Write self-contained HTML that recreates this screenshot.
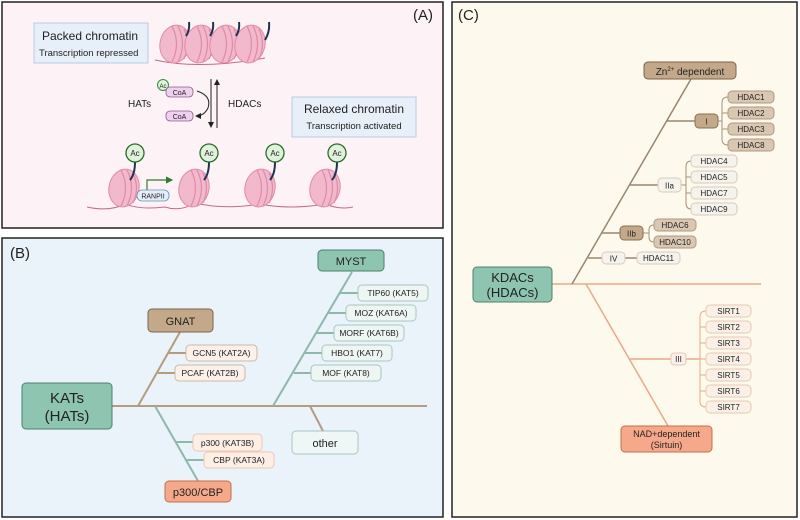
<!DOCTYPE html>
<html><head><meta charset="utf-8"><style>
html,body{margin:0;padding:0;background:#fff}
svg{display:block}
text{font-family:"Liberation Sans",sans-serif;fill:#222}
</style></head><body>
<svg width="800" height="520" viewBox="0 0 800 520" xmlns="http://www.w3.org/2000/svg">
<defs>
<marker id="ar" markerWidth="6" markerHeight="6" refX="5" refY="3" orient="auto"><path d="M0,0 L6,3 L0,6z" fill="#222"/></marker>
<marker id="arg" markerWidth="6" markerHeight="6" refX="5" refY="3" orient="auto"><path d="M0,0 L6,3 L0,6z" fill="#2e7d32"/></marker>
<g id="nuc"><ellipse cx="0" cy="0" rx="15" ry="19" fill="#f2b8cc" stroke="#e08aa8" stroke-width="1" transform="rotate(12)"/><path d="M-3,-18 Q6,0 -3,18 M3,-18 Q12,0 3,18 M9,-15 Q16,0 9,15" fill="none" stroke="#e08aa8" stroke-width="1.2"/></g>
</defs>
<!-- Panel A -->
<rect x="2" y="2" width="441" height="226" fill="#fdf3f7" stroke="#222" stroke-width="1.5"/>
<text x="413" y="20" font-size="15">(A)</text>
<rect x="34" y="23" width="114" height="40" fill="#e7eff8" stroke="#b7cbe0"/>
<text x="42" y="40" font-size="12">Packed chromatin</text>
<text x="39" y="56" font-size="9.5">Transcription repressed</text>
<path d="M155,60 Q200,70 265,58" fill="none" stroke="#c9668e" stroke-width="1"/>
<use href="#nuc" x="175" y="44"/><use href="#nuc" x="200" y="44"/><use href="#nuc" x="225" y="44"/><use href="#nuc" x="250" y="44"/>
<path d="M189,22 Q190,30 186,36 M213,22 Q214,30 210,36 M239,22 Q240,30 236,36 M269,22 Q270,32 265,40" fill="none" stroke="#1e3350" stroke-width="2"/>
<circle cx="163" cy="85" r="5.5" fill="#dff2dc" stroke="#3c8a3c"/><text x="163" y="88" font-size="6" text-anchor="middle">Ac</text>
<rect x="166" y="87" width="27" height="10" rx="4" fill="#efd0ee" stroke="#8a5a8a" stroke-width=".8"/><text x="179.5" y="95" font-size="7" text-anchor="middle">CoA</text>
<rect x="166" y="111" width="27" height="10" rx="4" fill="#efd0ee" stroke="#8a5a8a" stroke-width=".8"/><text x="179.5" y="119" font-size="7" text-anchor="middle">CoA</text>
<path d="M197,91 Q212,96 208,108 Q204,116 196,116" fill="none" stroke="#222" stroke-width="1" marker-end="url(#ar)"/>
<text x="128" y="107" font-size="10">HATs</text>
<line x1="211" y1="79" x2="211" y2="127" stroke="#222" marker-end="url(#ar)"/>
<line x1="217" y1="128" x2="217" y2="80" stroke="#222" marker-end="url(#ar)"/>
<text x="228" y="107" font-size="10">HDACs</text>
<rect x="292" y="97" width="124" height="40" fill="#e7eff8" stroke="#b7cbe0"/>
<text x="354" y="113" font-size="12" text-anchor="middle">Relaxed chromatin</text>
<text x="354" y="129" font-size="9.5" text-anchor="middle">Transcription activated</text>
<path d="M87,207 Q110,212 125,204 Q140,210 165,207 Q180,212 195,203 Q225,210 260,204 Q290,210 325,204 Q340,210 353,207" fill="none" stroke="#c9668e" stroke-width="1"/>
<use href="#nuc" x="124" y="188"/><use href="#nuc" x="194" y="188"/><use href="#nuc" x="260" y="188"/><use href="#nuc" x="325" y="188"/>
<g fill="none" stroke="#1e3350" stroke-width="2"><path d="M135,162 Q135,174 130,180"/><path d="M209,162 Q209,174 204,180"/><path d="M275,162 Q275,174 270,180"/><path d="M337,162 Q337,174 332,180"/></g>
<g fill="#dff2dc" stroke="#2e6b2e" stroke-width="1.3"><circle cx="135" cy="153" r="9"/><circle cx="209" cy="153" r="9"/><circle cx="275" cy="153" r="9"/><circle cx="337" cy="153" r="9"/></g>
<g font-size="8" text-anchor="middle"><text x="135" y="156">Ac</text><text x="209" y="156">Ac</text><text x="275" y="156">Ac</text><text x="337" y="156">Ac</text></g>
<path d="M147,190 L147,180 L172,180" fill="none" stroke="#2e7d32" stroke-width="1.2" marker-end="url(#arg)"/>
<rect x="137" y="190" width="32" height="11" rx="5" fill="#e3eef8" stroke="#6f8fae" stroke-width=".8"/><text x="153" y="198.5" font-size="7" text-anchor="middle">RANPII</text>
<!-- Panel B -->
<rect x="2" y="238" width="441" height="279" fill="#eaf2fa" stroke="#222" stroke-width="1.5"/>
<text x="10" y="258" font-size="15">(B)</text>
<g stroke-width="2" fill="none">
<line x1="112" y1="406" x2="427" y2="406" stroke="#b59c80"/>
<line x1="138" y1="406" x2="180" y2="332" stroke="#b59c80"/>
<line x1="168" y1="353" x2="186" y2="353" stroke="#b59c80"/>
<line x1="158" y1="373" x2="175" y2="373" stroke="#b59c80"/>
<line x1="273" y1="406" x2="352" y2="272" stroke="#8fb8ab"/>
<line x1="340" y1="293" x2="358" y2="293" stroke="#8fb8ab"/>
<line x1="328" y1="313" x2="346" y2="313" stroke="#8fb8ab"/>
<line x1="317" y1="333" x2="334" y2="333" stroke="#8fb8ab"/>
<line x1="305" y1="353" x2="322" y2="353" stroke="#8fb8ab"/>
<line x1="294" y1="373" x2="311" y2="373" stroke="#8fb8ab"/>
<line x1="155" y1="406" x2="198" y2="481" stroke="#8fb8ab"/>
<line x1="175" y1="442" x2="193" y2="442" stroke="#8fb8ab"/>
<line x1="186" y1="460" x2="204" y2="460" stroke="#8fb8ab"/>
<line x1="310" y1="406" x2="323" y2="431" stroke="#b59c80"/>
</g>
<rect x="22" y="383" width="90" height="46" rx="4" fill="#8ec5b0" stroke="#4f7f6c"/>
<text x="67" y="403" font-size="15" text-anchor="middle">KATs</text><text x="67" y="421" font-size="15" text-anchor="middle">(HATs)</text>
<rect x="148" y="309" width="65" height="23" rx="4" fill="#c3a98a" stroke="#7c6249"/><text x="180.5" y="325" font-size="11" text-anchor="middle">GNAT</text>
<rect x="318" y="250" width="66" height="21" rx="4" fill="#8ec5b0" stroke="#4f7f6c"/><text x="351" y="265" font-size="11" text-anchor="middle">MYST</text>
<rect x="165" y="481" width="66" height="21" rx="4" fill="#f6a98a" stroke="#c0704f"/><text x="198" y="496" font-size="11" text-anchor="middle">p300/CBP</text>
<rect x="292" y="431" width="66" height="23" rx="4" fill="#eef6f6" stroke="#a8c6c0"/><text x="325" y="447" font-size="11" text-anchor="middle">other</text>
<g font-size="8.5" text-anchor="middle">
<rect x="186" y="345" width="71" height="16" rx="4" fill="#fbf1ea" stroke="#cdb9a5"/><text x="221.5" y="356">GCN5 (KAT2A)</text>
<rect x="175" y="365" width="70" height="16" rx="4" fill="#fbf1ea" stroke="#cdb9a5"/><text x="210" y="376">PCAF (KAT2B)</text>
<rect x="358" y="285" width="70" height="16" rx="4" fill="#eef6f4" stroke="#a8c6c0"/><text x="393" y="296">TIP60 (KAT5)</text>
<rect x="346" y="305" width="70" height="16" rx="4" fill="#eef6f4" stroke="#a8c6c0"/><text x="381" y="316">MOZ (KAT6A)</text>
<rect x="334" y="325" width="70" height="16" rx="4" fill="#eef6f4" stroke="#a8c6c0"/><text x="369" y="336">MORF (KAT6B)</text>
<rect x="322" y="345" width="70" height="16" rx="4" fill="#eef6f4" stroke="#a8c6c0"/><text x="357" y="356">HBO1 (KAT7)</text>
<rect x="311" y="365" width="70" height="16" rx="4" fill="#eef6f4" stroke="#a8c6c0"/><text x="346" y="376">MOF (KAT8)</text>
<rect x="193" y="434" width="69" height="17" rx="4" fill="#fdeee6" stroke="#efc7b3"/><text x="227.5" y="446">p300 (KAT3B)</text>
<rect x="204" y="452" width="70" height="16" rx="4" fill="#fdeee6" stroke="#efc7b3"/><text x="239" y="463">CBP (KAT3A)</text>
</g>
<!-- Panel C -->
<rect x="452" y="2" width="345" height="515" fill="#fdf9ec" stroke="#222" stroke-width="1.5"/>
<text x="458" y="20" font-size="15">(C)</text>
<g stroke-width="1.5" fill="none">
<line x1="552" y1="284" x2="761" y2="284" stroke="#e8a98a"/>
<line x1="572" y1="284" x2="691" y2="79" stroke="#9a8670"/>
<line x1="667" y1="121" x2="695" y2="121" stroke="#9a8670"/>
<line x1="630" y1="185" x2="658" y2="185" stroke="#9a8670"/>
<line x1="602" y1="233" x2="620" y2="233" stroke="#9a8670"/>
<line x1="588" y1="258" x2="602" y2="258" stroke="#9a8670"/>
<line x1="625" y1="258" x2="637" y2="258" stroke="#9a8670"/>
<line x1="586" y1="284" x2="668" y2="426" stroke="#e8a98a"/>
<line x1="630" y1="359" x2="671" y2="359" stroke="#e8a98a"/>
<line x1="686" y1="359" x2="700" y2="359" stroke="#e8a98a"/>
</g>
<g stroke="#a8927a" stroke-width="1" fill="none">
<path d="M718,121 H722 M728,97 Q722,97 722,103 V139 Q722,145 728,145 M722,113 H728 M722,129 H728"/>
<path d="M681,185 H686 M691,161 Q686,161 686,167 V203 Q686,209 691,209 M686,177 H691 M686,193 H691"/>
<path d="M643,233 H649 M654,225 Q649,225 649,230 V237 Q649,242 654,242"/>
</g>
<path d="M706,311 Q700,311 700,317 V401 Q700,407 706,407 M700,327 H706 M700,343 H706 M700,359 H706 M700,375 H706 M700,391 H706" stroke="#e8a98a" fill="none"/>
<rect x="473" y="267" width="79" height="35" rx="4" fill="#8ec5b0" stroke="#4f7f6c"/>
<text x="512.5" y="282" font-size="13" text-anchor="middle">KDACs</text><text x="512.5" y="297" font-size="13" text-anchor="middle">(HDACs)</text>
<rect x="644" y="62" width="92" height="17" rx="4" fill="#c3a98a" stroke="#7c6249"/>
<text x="690" y="75" font-size="10" text-anchor="middle">Zn<tspan font-size="6" dy="-4">2+</tspan><tspan dy="4"> dependent</tspan></text>
<rect x="621" y="426" width="91" height="26" rx="4" fill="#f6a98a" stroke="#c0704f"/>
<text x="666.5" y="437" font-size="9" text-anchor="middle">NAD+dependent</text><text x="666.5" y="448" font-size="9" text-anchor="middle">(Sirtuin)</text>
<g font-size="8" text-anchor="middle">
<rect x="695" y="114" width="23" height="14" rx="4" fill="#c3a98a" stroke="#8a6f55"/><text x="706.5" y="124.5">I</text>
<rect x="658" y="178" width="23" height="14" rx="4" fill="#f6f2ec" stroke="#d6ccc0"/><text x="669.5" y="188.5">IIa</text>
<rect x="620" y="226" width="23" height="14" rx="4" fill="#c3a98a" stroke="#8a6f55"/><text x="631.5" y="236.5">IIb</text>
<rect x="602" y="252" width="23" height="12" rx="4" fill="#f6f2ec" stroke="#d6ccc0"/><text x="613.5" y="261.5">IV</text>
<rect x="671" y="353" width="15" height="12" rx="3" fill="#fbf0e8" stroke="#e8c8b5"/><text x="678.5" y="362">III</text>
<g fill="#d9c7b2" stroke="#b09a82">
<rect x="728" y="91" width="46" height="12" rx="4"/><rect x="728" y="107" width="46" height="12" rx="4"/><rect x="728" y="123" width="46" height="12" rx="4"/><rect x="728" y="139" width="46" height="12" rx="4"/>
<rect x="654" y="219" width="42" height="12" rx="4"/><rect x="654" y="236" width="42" height="12" rx="4"/></g>
<g fill="#f6f2ec" stroke="#d6ccc0">
<rect x="691" y="155" width="46" height="12" rx="4"/><rect x="691" y="171" width="46" height="12" rx="4"/><rect x="691" y="187" width="46" height="12" rx="4"/><rect x="691" y="203" width="46" height="12" rx="4"/>
<rect x="637" y="252" width="43" height="12" rx="4"/></g>
<g fill="#fbf0e8" stroke="#e8c8b5">
<rect x="706" y="305" width="45" height="12" rx="4"/><rect x="706" y="321" width="45" height="12" rx="4"/><rect x="706" y="337" width="45" height="12" rx="4"/><rect x="706" y="353" width="45" height="12" rx="4"/><rect x="706" y="369" width="45" height="12" rx="4"/><rect x="706" y="385" width="45" height="12" rx="4"/><rect x="706" y="401" width="45" height="12" rx="4"/></g>
<text x="751" y="100">HDAC1</text><text x="751" y="116">HDAC2</text><text x="751" y="132">HDAC3</text><text x="751" y="148">HDAC8</text>
<text x="714" y="164">HDAC4</text><text x="714" y="180">HDAC5</text><text x="714" y="196">HDAC7</text><text x="714" y="212">HDAC9</text>
<text x="675" y="228">HDAC6</text><text x="675" y="245">HDAC10</text><text x="658.5" y="261">HDAC11</text>
<text x="728.5" y="314">SIRT1</text><text x="728.5" y="330">SIRT2</text><text x="728.5" y="346">SIRT3</text><text x="728.5" y="362">SIRT4</text><text x="728.5" y="378">SIRT5</text><text x="728.5" y="394">SIRT6</text><text x="728.5" y="410">SIRT7</text>
</g>
</svg>
</body></html>
